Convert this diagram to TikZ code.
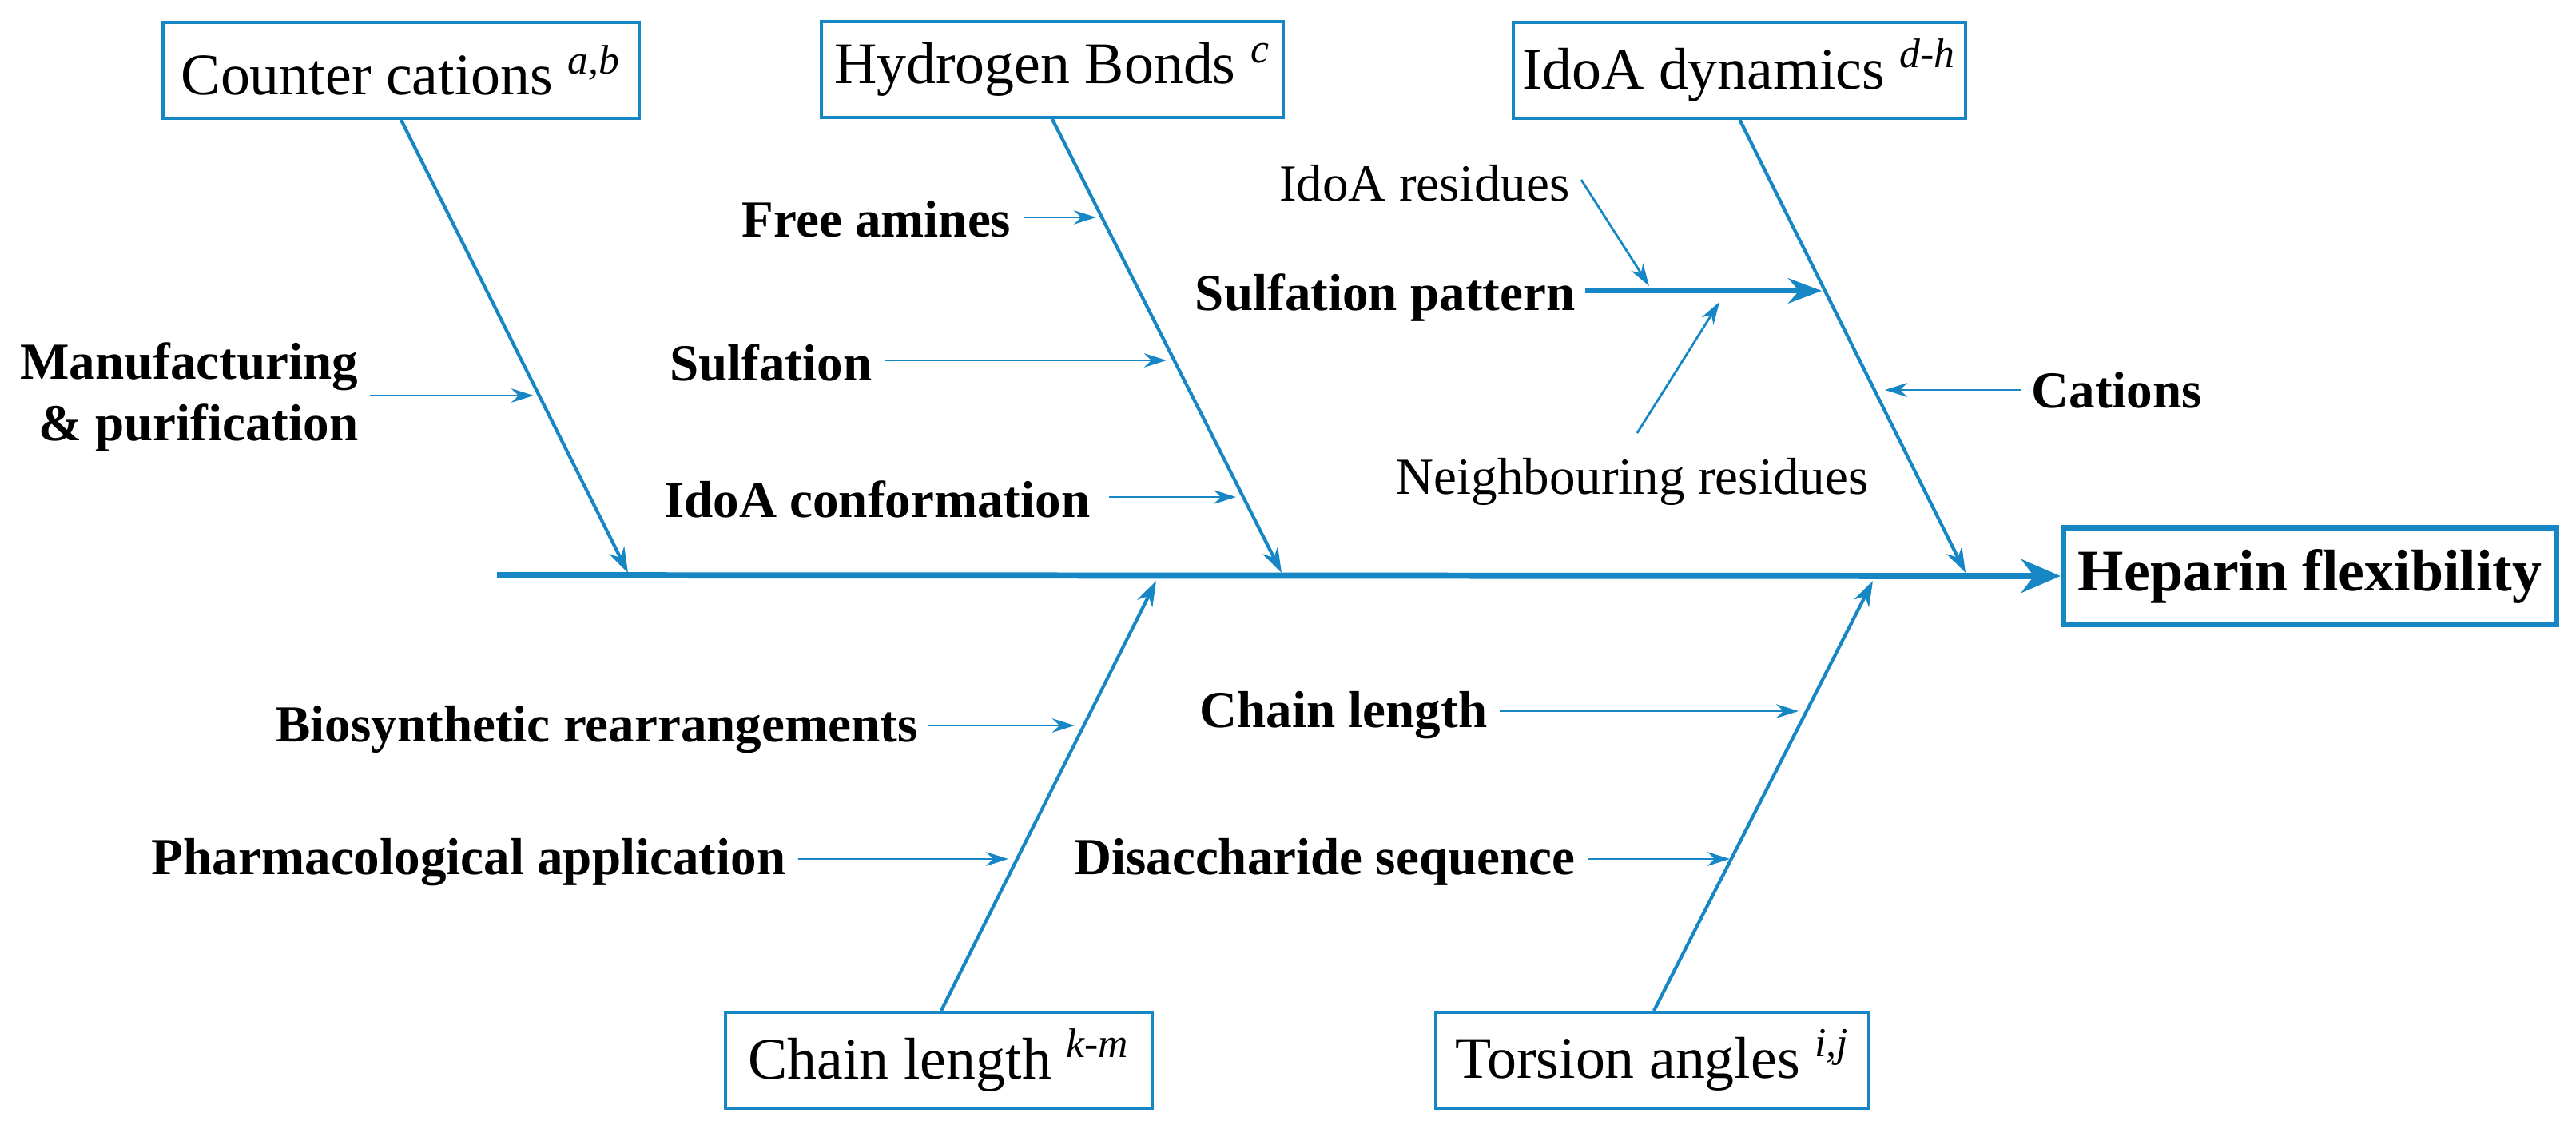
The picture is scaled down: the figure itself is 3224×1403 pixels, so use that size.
\documentclass[tikz,border=0pt]{standalone}
\usepackage{fontspec}
\setmainfont{Liberation Serif}
\usetikzlibrary{arrows.meta}
\definecolor{fb}{RGB}{22,135,196}
\begin{document}
\begin{tikzpicture}[x=0.01cm,y=-0.01cm,
  box/.style={draw=fb,line width=1.1pt,minimum height=1.2cm,inner xsep=0pt,font=\fontsize{21}{24}\selectfont},
  lab/.style={font=\bfseries\fontsize{18.5}{22}\selectfont,inner sep=0pt},
  nlab/.style={font=\fontsize{18.5}{22}\selectfont,inner sep=0pt},
  br/.style={draw=fb,line width=1.2pt,-{Stealth[length=9pt,width=6pt]}},
  sm/.style={draw=fb,line width=0.8pt,-{Stealth[length=8pt,width=5pt]}},
  sp/.style={draw=fb,line width=2.2pt,-{Stealth[length=14pt,width=12pt]}}]
\useasboundingbox (0,0) rectangle (3224,1403);
% boxes
\node[box,minimum width=5.96cm] (cc) at (502,88) {Counter cations \textsuperscript{\textit{a,b}}};
\node[box,minimum width=5.78cm] (hb) at (1317,87) {Hydrogen Bonds \textsuperscript{\textit{c}}};
\node[box,minimum width=5.65cm] (id) at (2177,88) {IdoA dynamics \textsuperscript{\textit{d-h}}};
\node[box,minimum width=5.34cm] (cl) at (1175,1327) {Chain length \textsuperscript{\textit{k-m}}};
\node[box,minimum width=5.42cm] (ta) at (2068,1327) {Torsion angles \textsuperscript{\textit{i,j}}};
\node[draw=fb,line width=2pt,minimum width=6.17cm,minimum height=1.21cm,font=\bfseries\fontsize{21}{24}\selectfont] (hf) at (2891,721) {Heparin flexibility};
% spine
\coordinate (s0) at (622,720);
\draw[sp] (s0) -- (hf.west);
% branch ends
\coordinate (cce) at (786,717);
\coordinate (hbe) at (1604,717);
\coordinate (ide) at (2460,717);
\coordinate (cle) at (1447,727);
\coordinate (tae) at (2344,727);
\draw[br] (cc.south west) ++(300,0) coordinate (ccs) -- (cce);
\draw[br] (hb.south west) ++(291,0) coordinate (hbs) -- (hbe);
\draw[br] (id.south west) ++(285,0) coordinate (ids) -- (ide);
\draw[br] (cl.north west) ++(272,0) coordinate (cls) -- (cle);
\draw[br] (ta.north west) ++(275,0) coordinate (tas) -- (tae);
% labels
\node[lab,anchor=east,align=right] (mf) at (449,497) {Manufacturing\\\& purification};
\node[lab,anchor=east] (fa) at (1266,274) {Free amines};
\node[lab,anchor=east] (su) at (1092,454) {Sulfation};
\node[lab,anchor=east] (ic) at (1365,625) {IdoA conformation};
\node[nlab,anchor=east] (ir) at (1965,229) {IdoA residues};
\node[lab,anchor=east] (sp) at (1972,373) {Sulfation pattern};
\node[nlab] (nr) at (2043,603) {Neighbouring residues};
\node[lab,anchor=west] (ca) at (2542,488) {Cations};
\node[lab,anchor=east] (bs) at (1149,913) {Biosynthetic rearrangements};
\node[lab,anchor=east] (ph) at (984,1079) {Pharmacological application};
\node[lab,anchor=east] (ch) at (1862,895) {Chain length};
\node[lab,anchor=east] (ds) at (1972,1079) {Disaccharide sequence};
% targets
\coordinate (t1) at (668,495);
\coordinate (t2) at (1372,272);
\coordinate (t3) at (1460,451);
\coordinate (t4) at (1547,622);
\coordinate (t5) at (2280,364);
\coordinate (t6) at (2064,358);
\coordinate (t7) at (2152,378);
\coordinate (t8) at (2359,488);
\coordinate (t9) at (1345,908);
\coordinate (t10) at (1262,1075);
\coordinate (t11) at (2251,890);
\coordinate (t12) at (2165,1075);
\draw[sm] (mf.east |- t1) ++(14,0) -- (t1);
\draw[sm] (fa.east |- t2) ++(16,0) -- (t2);
\draw[sm] (su.east |- t3) ++(16,0) -- (t3);
\draw[sm] (ic.east |- t4) ++(23,0) -- (t4);
\draw[draw=fb,line width=1.6pt,-{Stealth[length=12pt,width=9pt]}] (sp.east |- t5) ++(12,0) -- (t5);
\draw[sm] (1979,225) coordinate (irs) -- (t6);
\draw[sm] (2049,542) coordinate (nrs) -- (t7);
\draw[sm] (ca.west |- t8) ++(-12,0) -- (t8);
\draw[sm] (bs.east |- t9) ++(13,0) -- (t9);
\draw[sm] (ph.east |- t10) ++(15,0) -- (t10);
\draw[sm] (ch.east |- t11) ++(15,0) -- (t11);
\draw[sm] (ds.east |- t12) ++(15,0) -- (t12);
\end{tikzpicture}
\end{document}
